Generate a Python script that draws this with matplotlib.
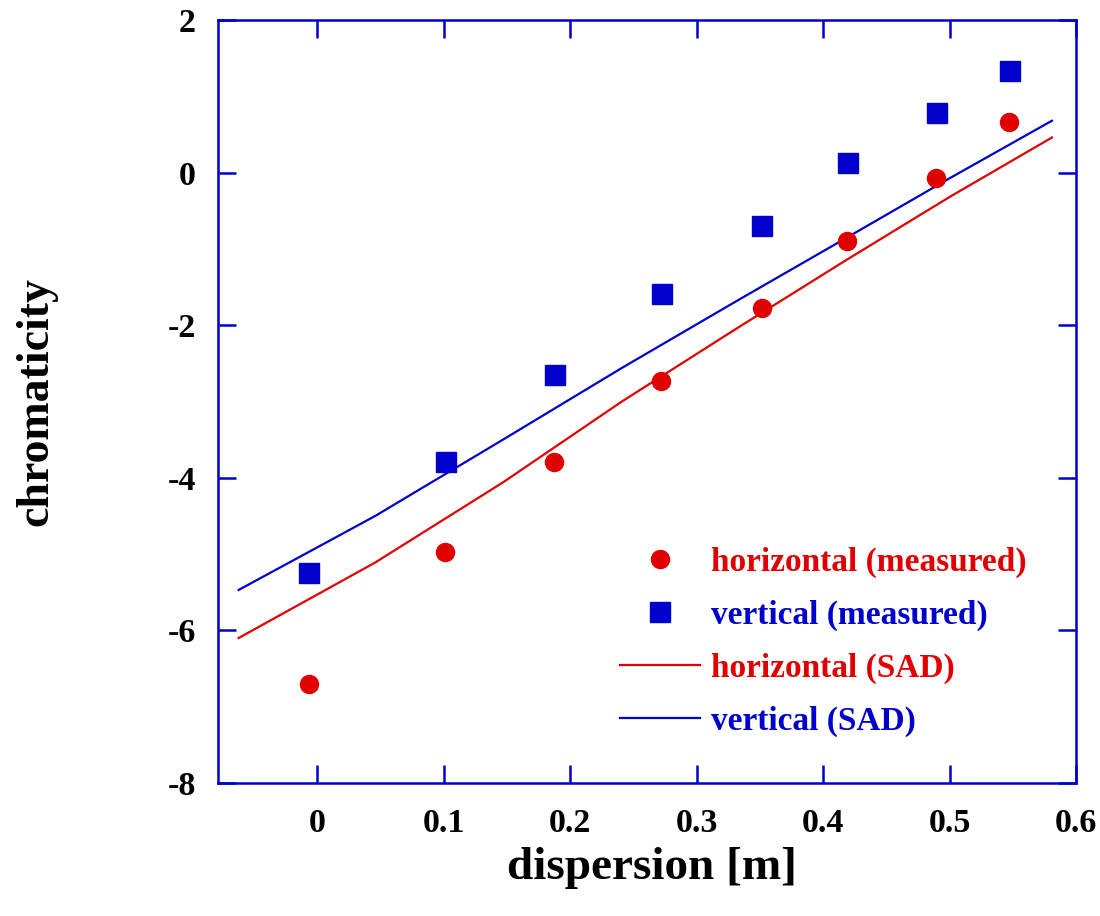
import matplotlib
matplotlib.use("Agg")
import matplotlib.pyplot as plt

# measured data
disp_meas_h = [-0.006, 0.101, 0.187, 0.272, 0.352, 0.419, 0.489, 0.547]
chrom_meas_h = [-6.70, -4.97, -3.79, -2.73, -1.77, -0.89, -0.075, 0.667]
disp_meas_v = [-0.006, 0.102, 0.188, 0.273, 0.352, 0.420, 0.490, 0.548]
chrom_meas_v = [-5.25, -3.79, -2.65, -1.59, -0.70, 0.122, 0.777, 1.336]

# SAD model curves
disp_sad = [-0.062, 0.046, 0.147, 0.241, 0.332, 0.418, 0.500, 0.581]
chrom_sad_h = [-6.10, -5.11, -4.06, -3.00, -2.04, -1.15, -0.32, 0.46]
chrom_sad_v = [-5.47, -4.50, -3.50, -2.56, -1.68, -0.86, -0.075, 0.68]

xticks = [0, 0.1, 0.2, 0.3, 0.4, 0.5, 0.6]
xticklabels = ["0", "0.1", "0.2", "0.3", "0.4", "0.5", "0.6"]
yticks = [-8, -6, -4, -2, 0, 2]
yticklabels = ["-8", "-6", "-4", "-2", "0", "2"]

RED = "#e00000"
BLUE = "#0000cc"
SERIF = ["Liberation Serif", "DejaVu Serif"]

plt.rcParams["font.family"] = SERIF
plt.rcParams["font.weight"] = "bold"

fig = plt.figure(figsize=(11, 9.16), dpi=100)
ax = fig.add_axes([218 / 1100, 1 - 783 / 916, 858 / 1100, 763 / 916])

ax.plot(disp_meas_h, chrom_meas_h, linestyle="none", marker="o", ms=13,
        color=RED, label="horizontal (measured)", zorder=3)
ax.plot(disp_meas_v, chrom_meas_v, linestyle="none", marker="s", ms=15,
        color=BLUE, label="vertical (measured)", zorder=3)
ax.plot(disp_sad, chrom_sad_h, color=RED, lw=1.6, label="horizontal (SAD)", zorder=2)
ax.plot(disp_sad, chrom_sad_v, color=BLUE, lw=1.6, label="vertical (SAD)", zorder=2)

ax.set_xlim(-0.0783, 0.6)
ax.set_ylim(-8, 2)
ax.set_xticks(xticks)
ax.set_xticklabels(xticklabels)
ax.set_yticks(yticks)
ax.set_yticklabels(yticklabels)

for sp in ax.spines.values():
    sp.set_color(BLUE)
    sp.set_linewidth(1.8)

ax.tick_params(axis="both", direction="in", length=13, width=1.8, color=BLUE,
               top=True, right=True, labelsize=24.5, labelcolor="black")
ax.tick_params(axis="x", pad=18)
ax.tick_params(axis="y", pad=16)
for lab in ax.get_xticklabels() + ax.get_yticklabels():
    lab.set_fontweight("bold")

ax.set_xlabel("dispersion [m]", fontsize=34, fontweight="bold")
ax.xaxis.label.set_va("center")
ax.xaxis.set_label_coords(0.506, -0.1115)
ax.set_ylabel("chromaticity", fontsize=33, fontweight="bold")
ax.yaxis.label.set_va("center")
ax.yaxis.set_label_coords(-0.212, 0.5)

leg = ax.legend(loc="upper left", bbox_to_anchor=(620 / 1100, 1 - 547 / 916),
                bbox_transform=fig.transFigure, frameon=False,
                prop={"family": SERIF, "weight": "bold", "size": 24},
                handlelength=2.4, handletextpad=0.33, labelspacing=0.65,
                borderpad=0, borderaxespad=0, markerscale=1.0)
for txt, col in zip(leg.get_texts(), [RED, BLUE, RED, BLUE]):
    txt.set_color(col)

fig.savefig("out.png", dpi=100)
